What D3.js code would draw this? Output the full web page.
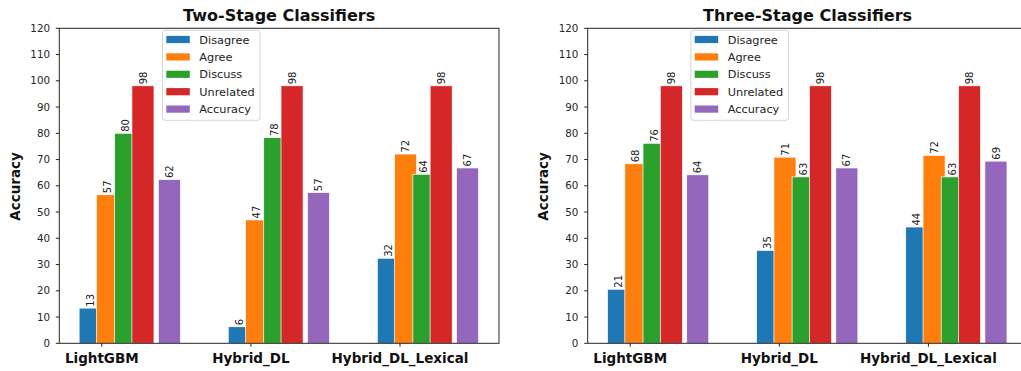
<!DOCTYPE html>
<html>
<head>
<meta charset="utf-8">
<script src="https://cdn.jsdelivr.net/npm/d3@7"></script>
<style>
  html, body { margin: 0; padding: 0; background: #fff; }
  svg { display: block; font-family: 'DejaVu Sans', sans-serif; }
</style>
</head>
<body>
<div id="chart"></div>
<script>
const categories = ['LightGBM', 'Hybrid_DL', 'Hybrid_DL_Lexical'];
const seriesNames = ['Disagree', 'Agree', 'Discuss', 'Unrelated', 'Accuracy'];
const seriesColors = ['#1f77b4', '#ff7f0e', '#2ca02c', '#d62728', '#9467bd'];
const yTicks = d3.range(0, 121, 10);

// two-stage classifiers
const disagree2 = [13.4, 6.3, 32.4];
const agree2 = [56.6, 47.0, 72.1];
const discuss2 = [80.0, 78.4, 64.4];
const unrelated2 = [98.1, 98.1, 98.1];
const accuracy2 = [62.4, 57.4, 66.8];

// three-stage classifiers
const disagree3 = [20.6, 35.4, 44.3];
const agree3 = [68.4, 70.9, 71.6];
const discuss3 = [76.2, 63.4, 63.4];
const unrelated3 = [98.1, 98.1, 98.1];
const accuracy3 = [64.2, 66.8, 69.4];

const panels = [
  { title: 'Two-Stage Classifiers', left: 59.3, series: [disagree2, agree2, discuss2, unrelated2, accuracy2] },
  { title: 'Three-Stage Classifiers', left: 587.7, series: [disagree3, agree3, discuss3, unrelated3, accuracy3] },
];

// bar placement inside a group (in category units), later bars overlap earlier ones
const barOffset = [-0.078, 0.038, 0.16, 0.276, 0.453];
const barWidth = 0.148;

const W = 1021;
const H = 371;
const axW = 439.7;
const axTop = 28.3;
const axBottom = 343.3;

const svg = d3
  .select('#chart')
  .append('svg')
  .attr('width', W)
  .attr('height', H);

svg.append('rect').attr('width', W).attr('height', H).attr('fill', '#fff');

function drawPanel(p) {
  const x = d3.scaleLinear().domain([-0.285, 2.664]).range([p.left, p.left + axW]);
  const y = d3.scaleLinear().domain([0, 120]).range([axBottom, axTop]);
  const g = svg.append('g');

  // bars
  p.series.forEach((vals, si) => {
    g.append('g')
      .selectAll('rect')
      .data(vals)
      .join('rect')
      .attr('x', (d, i) => x(i + barOffset[si] - barWidth / 2))
      .attr('width', x(barWidth) - x(0))
      .attr('y', (d) => y(d))
      .attr('height', (d) => y(0) - y(d))
      .attr('fill', seriesColors[si])
      .attr('stroke', '#fff')
      .attr('stroke-width', 0.7);
  });

  // value labels
  p.series.forEach((vals, si) => {
    g.append('g')
      .selectAll('text')
      .data(vals)
      .join('text')
      .attr('transform', (d, i) => `translate(${x(i + barOffset[si])},${y(d) - 1.5}) rotate(-90)`)
      .attr('dy', '0.36em')
      .attr('text-anchor', 'start')
      .attr('font-size', '10px')
      .attr('fill', '#222')
      .text((d) => Math.round(d));
  });

  // spines
  g.append('rect')
    .attr('x', p.left)
    .attr('y', axTop)
    .attr('width', axW)
    .attr('height', axBottom - axTop)
    .attr('fill', 'none')
    .attr('stroke', '#262626')
    .attr('stroke-width', 1);

  // y axis
  const yAxis = g.append('g');
  yAxis
    .selectAll('line')
    .data(yTicks)
    .join('line')
    .attr('x1', p.left - 3.5)
    .attr('x2', p.left)
    .attr('y1', (d) => y(d))
    .attr('y2', (d) => y(d))
    .attr('stroke', '#262626');
  yAxis
    .selectAll('text')
    .data(yTicks)
    .join('text')
    .attr('x', p.left - 9.3)
    .attr('y', (d) => y(d))
    .attr('dy', '0.34em')
    .attr('text-anchor', 'end')
    .attr('font-size', '10.3px')
    .attr('fill', '#262626')
    .text((d) => d);

  // x axis
  const xAxis = g.append('g');
  xAxis
    .selectAll('line')
    .data(categories)
    .join('line')
    .attr('x1', (d, i) => x(i))
    .attr('x2', (d, i) => x(i))
    .attr('y1', axBottom)
    .attr('y2', axBottom + 3.5)
    .attr('stroke', '#262626');
  xAxis
    .selectAll('text')
    .data(categories)
    .join('text')
    .attr('x', (d, i) => x(i))
    .attr('y', 362.5)
    .attr('text-anchor', 'middle')
    .attr('font-size', '13.5px')
    .attr('font-weight', 'bold')
    .attr('fill', '#111')
    .text((d) => d);

  // y label
  g.append('text')
    .attr('transform', `translate(${p.left - 39.3},186.5) rotate(-90)`)
    .attr('text-anchor', 'middle')
    .attr('font-size', '13.5px')
    .attr('font-weight', 'bold')
    .attr('fill', '#111')
    .text('Accuracy');

  // title
  g.append('text')
    .attr('x', p.left + axW / 2)
    .attr('y', 21)
    .attr('text-anchor', 'middle')
    .attr('font-size', '16px')
    .attr('font-weight', 'bold')
    .attr('fill', '#111')
    .text(p.title);

  // legend
  const lx = p.left + 103.2;
  const ly = 30.3;
  const legend = g.append('g').attr('transform', `translate(${lx},${ly})`);
  legend
    .append('rect')
    .attr('width', 97.5)
    .attr('height', 90)
    .attr('rx', 2.5)
    .attr('fill', '#fff')
    .attr('fill-opacity', 0.8)
    .attr('stroke', '#d5d5d5')
    .attr('stroke-width', 1);
  const item = legend
    .selectAll('g.item')
    .data(seriesNames)
    .join('g')
    .attr('class', 'item')
    .attr('transform', (d, i) => `translate(0,${9.2 + i * 17.4})`);
  item
    .append('rect')
    .attr('x', 3.8)
    .attr('y', -3.6)
    .attr('width', 23.5)
    .attr('height', 7.2)
    .attr('fill', (d, i) => seriesColors[i]);
  item
    .append('text')
    .attr('x', 36.8)
    .attr('dy', '0.36em')
    .attr('font-size', '11.3px')
    .attr('fill', '#222')
    .text((d) => d);
}

panels.forEach(drawPanel);
</script>
</body>
</html>
